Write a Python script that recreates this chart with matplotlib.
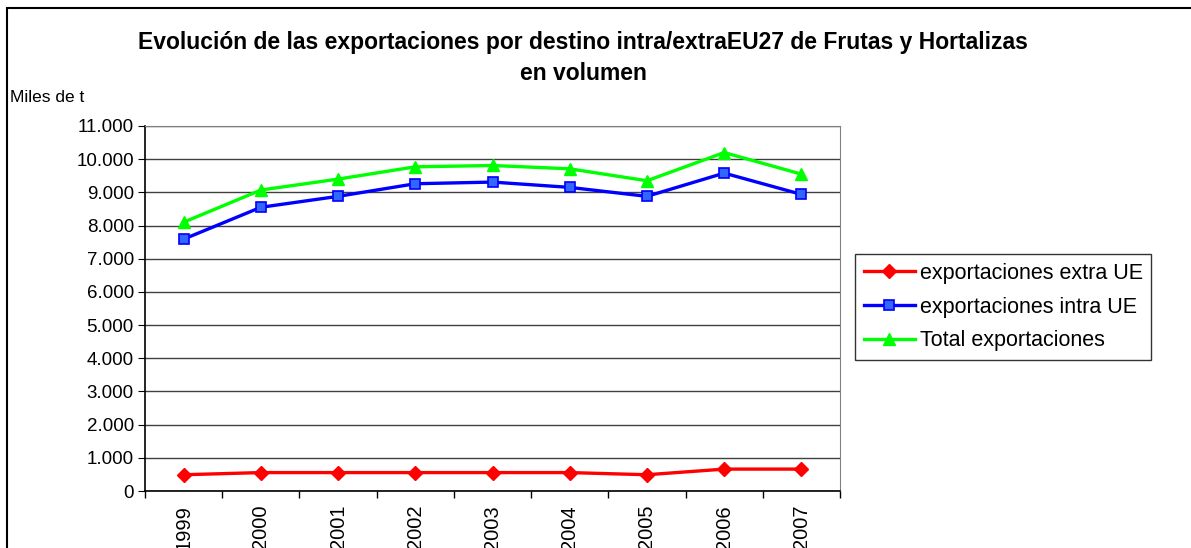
import matplotlib.pyplot as plt
from matplotlib.patches import Rectangle
from matplotlib.ticker import FixedLocator, FuncFormatter

years = ['1999', '2000', '2001', '2002', '2003', '2004', '2005', '2006', '2007']
extra_ue = [490, 555, 555, 555, 555, 555, 490, 660, 660]
intra_ue = [7590, 8550, 8880, 9260, 9310, 9150, 8880, 9580, 8940]
total = [8100, 9070, 9400, 9770, 9810, 9710, 9350, 10200, 9550]

plt.rcParams['font.family'] = ['Liberation Sans', 'DejaVu Sans']

fig = plt.figure(figsize=(11.91, 5.48), dpi=100)
fig.patches.append(Rectangle((7 / 1191, -0.1), 1.2, 1.1 - 8 / 548, transform=fig.transFigure,
                             fill=False, edgecolor='black', linewidth=1.5))

ax = fig.add_axes([145 / 1191, 1 - 491 / 548, 695 / 1191, 365 / 548])
x = list(range(len(years)))

ax.plot(x, extra_ue, color='#FF0000', linewidth=2.4, marker='D', markersize=7,
        markerfacecolor='#FF0000', markeredgecolor='#FF0000', label='exportaciones extra UE', zorder=3)
ax.plot(x, intra_ue, color='#0000FF', linewidth=2.4, marker='s', markersize=7,
        markerfacecolor='#3366FF', markeredgecolor='#0000FF', markeredgewidth=1.2,
        label='exportaciones intra UE', zorder=3)
ax.plot(x, total, color='#00FF00', linewidth=2.4, marker='^', markersize=8,
        markerfacecolor='#00FF00', markeredgecolor='#00FF00', label='Total exportaciones', zorder=3)

ax.set_xlim(-0.5, len(years) - 0.5)
ax.set_ylim(0, 11000)
ax.set_yticks(range(0, 11001, 1000))
ax.yaxis.set_major_formatter(FuncFormatter(lambda v, p: f'{int(v):,}'.replace(',', '.')))
ax.yaxis.grid(True, color='#404040', linewidth=1)
ax.set_axisbelow(True)

ax.set_xticks(x)
ax.set_xticklabels(years, rotation=90, fontsize=14.5)
ax.tick_params(axis='x', which='major', length=0, pad=10)
ax.xaxis.set_minor_locator(FixedLocator([i - 0.5 for i in range(len(years) + 1)]))
ax.tick_params(axis='x', which='minor', length=5, width=1, direction='out')
ax.tick_params(axis='y', labelsize=13.5, length=5, direction='out', pad=3)

ax.spines['top'].set_color('#808080')
ax.spines['right'].set_color('#808080')
ax.spines['left'].set_linewidth(1.2)
ax.spines['bottom'].set_linewidth(1.2)

fig.text(583 / 1191, 1 - 42 / 548, 'Evolución de las exportaciones por destino intra/extraEU27 de Frutas y Hortalizas',
         ha='center', va='center', fontsize=16.5, fontweight='bold')
fig.text(583 / 1191, 1 - 73 / 548, 'en volumen', ha='center', va='center', fontsize=16.5, fontweight='bold')
fig.text(10 / 1191, 1 - 98 / 548, 'Miles de t', ha='left', va='center', fontsize=12.5)

leg = fig.legend(loc='upper left', bbox_to_anchor=(855 / 1191, 1 - 254 / 548), fontsize=15.5,
                 frameon=True, fancybox=False, edgecolor='black', handlelength=2.4,
                 borderpad=0.4, labelspacing=0.6, handletextpad=0.2, borderaxespad=0)
leg.get_frame().set_linewidth(1)

fig.savefig('out.png', dpi=100)
